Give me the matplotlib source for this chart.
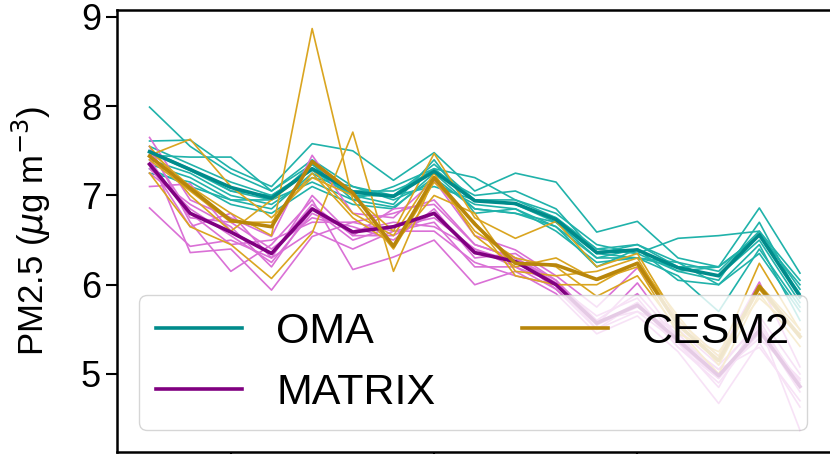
import matplotlib
matplotlib.use("Agg")
import matplotlib.pyplot as plt

plt.rcParams['font.family'] = ['Liberation Sans', 'DejaVu Sans']

years = list(range(2003, 2020))
xticks = [2005, 2010, 2015]
yticks = [5, 6, 7, 8, 9]

# OMA ensemble members and mean
oma_members = [
    [7.99, 7.55, 7.25, 7.05, 7.40, 7.10, 7.00, 7.35, 6.95, 6.90, 6.75, 6.40, 6.45, 6.25, 6.15, 6.60, 5.95],
    [7.61, 7.62, 7.30, 7.10, 7.58, 7.50, 7.17, 7.48, 7.05, 7.25, 7.15, 6.59, 6.71, 6.30, 6.20, 6.86, 6.13],
    [7.45, 7.43, 7.43, 7.05, 7.35, 6.95, 7.10, 7.30, 7.20, 6.95, 6.80, 6.45, 6.35, 6.52, 6.55, 6.60, 6.05],
    [7.35, 7.20, 6.95, 6.85, 7.25, 7.00, 6.90, 7.40, 6.80, 6.85, 6.60, 6.25, 6.30, 6.10, 5.70, 6.40, 5.75],
    [7.30, 7.10, 6.95, 6.95, 7.15, 6.95, 6.87, 7.20, 6.85, 6.80, 6.70, 6.30, 6.40, 6.15, 6.05, 6.70, 5.85],
    [7.55, 7.35, 7.15, 7.00, 7.30, 7.05, 7.05, 7.25, 7.00, 7.05, 6.85, 6.35, 6.45, 6.20, 6.10, 6.50, 5.80],
    [7.40, 7.25, 7.00, 6.90, 7.20, 7.10, 6.95, 7.15, 6.90, 6.85, 6.65, 6.30, 6.30, 6.25, 6.00, 6.45, 5.60],
    [7.50, 7.30, 7.05, 6.95, 7.35, 7.00, 7.00, 7.10, 6.95, 6.95, 6.75, 6.40, 6.35, 6.15, 6.20, 6.55, 5.90],
    [7.25, 7.15, 6.90, 6.80, 7.10, 6.90, 6.85, 7.25, 6.85, 6.80, 6.65, 6.20, 6.40, 6.05, 6.00, 6.35, 5.70],
    [7.48, 7.28, 7.05, 7.00, 7.28, 7.00, 7.00, 7.30, 6.95, 6.90, 6.70, 6.35, 6.30, 6.20, 6.20, 6.55, 6.00],
]
oma_mean = [7.49, 7.29, 7.09, 6.97, 7.30, 7.04, 6.99, 7.27, 6.94, 6.91, 6.73, 6.36, 6.39, 6.19, 6.10, 6.56, 5.87]

# MATRIX ensemble members and mean
matrix_members = [
    [7.65, 6.95, 6.75, 6.54, 7.45, 6.80, 6.75, 7.17, 6.55, 6.39, 6.10, 5.75, 6.19, 5.60, 5.20, 6.03, 5.08],
    [6.86, 6.43, 6.50, 6.30, 6.60, 6.40, 6.60, 6.70, 6.20, 6.20, 6.02, 5.50, 5.80, 5.35, 4.95, 5.45, 4.93],
    [7.10, 7.13, 6.60, 6.35, 6.90, 6.55, 6.55, 6.80, 6.35, 6.30, 5.95, 5.55, 6.02, 5.40, 5.05, 5.60, 4.85],
    [7.55, 6.70, 6.15, 6.45, 6.95, 6.17, 6.31, 6.50, 6.00, 6.15, 5.90, 5.45, 5.65, 5.25, 4.67, 5.35, 4.63],
    [7.45, 6.36, 6.40, 5.94, 6.54, 6.70, 6.80, 6.95, 6.45, 6.30, 6.05, 5.60, 5.70, 5.50, 5.10, 5.55, 4.37],
    [7.30, 6.85, 6.55, 6.25, 6.80, 6.60, 6.70, 6.65, 6.40, 6.25, 6.00, 5.65, 5.85, 5.30, 4.90, 5.50, 4.80],
    [7.40, 6.75, 6.70, 6.40, 6.75, 6.65, 6.50, 6.85, 6.30, 6.35, 6.05, 5.55, 5.75, 5.45, 5.00, 5.40, 4.95],
    [7.25, 6.90, 6.65, 6.20, 6.85, 6.50, 6.65, 6.75, 6.40, 6.20, 5.95, 5.50, 5.70, 5.35, 4.85, 5.65, 5.00],
    [7.50, 6.80, 6.45, 6.50, 6.70, 6.70, 6.60, 6.60, 6.25, 6.10, 6.00, 5.60, 5.90, 5.40, 5.05, 5.30, 4.70],
    [7.35, 6.65, 6.80, 6.30, 7.00, 6.55, 6.85, 6.90, 6.45, 6.30, 6.02, 5.55, 5.80, 5.30, 4.95, 5.55, 4.90],
]
matrix_mean = [7.35, 6.80, 6.59, 6.35, 6.85, 6.59, 6.65, 6.80, 6.36, 6.26, 6.00, 5.57, 5.77, 5.38, 4.98, 5.49, 4.86]

# CESM2 ensemble members and mean
cesm_members = [
    [7.45, 7.63, 7.10, 6.75, 7.20, 7.00, 6.60, 7.47, 6.75, 6.52, 6.71, 6.20, 6.35, 5.60, 5.20, 6.24, 5.49],
    [7.25, 6.65, 6.45, 6.07, 6.58, 7.71, 6.15, 7.20, 6.60, 6.30, 6.20, 5.87, 6.10, 5.50, 5.00, 5.90, 5.31],
    [7.50, 7.10, 6.80, 6.55, 8.87, 6.95, 6.40, 7.15, 6.70, 6.10, 6.00, 6.00, 6.25, 5.65, 5.10, 5.95, 5.40],
    [7.55, 7.00, 6.60, 6.95, 7.30, 6.80, 6.55, 7.25, 6.55, 6.20, 6.30, 6.05, 6.20, 5.45, 5.25, 5.85, 5.45],
    [7.40, 7.05, 6.70, 6.70, 7.25, 6.75, 6.45, 7.00, 6.80, 6.15, 6.10, 6.15, 6.30, 5.55, 5.15, 6.00, 5.50],
]
cesm_mean = [7.44, 7.08, 6.72, 6.65, 7.38, 7.03, 6.43, 7.20, 6.68, 6.24, 6.22, 6.06, 6.24, 5.55, 5.15, 5.98, 5.42]

fig = plt.figure(figsize=(8.3, 4.54), dpi=100)
ax = fig.add_axes([0.141, 0.0044, 0.862, 0.9736])

for m in oma_members:
    ax.plot(years, m, color='lightseagreen', lw=1.2)
for m in matrix_members:
    ax.plot(years, m, color='orchid', lw=1.2)
for m in cesm_members:
    ax.plot(years, m, color='goldenrod', lw=1.2)

ax.plot(years, oma_mean, color='darkcyan', lw=2.6, label='OMA')
ax.plot(years, matrix_mean, color='purple', lw=2.6, label='MATRIX')
ax.plot(years, cesm_mean, color='darkgoldenrod', lw=2.6, label='CESM2')

ax.set_xlim(2002.2, 2019.8)
ax.set_ylim(4.126, 9.078)
ax.set_xticks(xticks)
ax.set_xticklabels([])  # year labels fall below the cropped edge
ax.set_yticks(yticks)
ax.tick_params(labelsize=26, length=8, width=1.5)
for s in ax.spines.values():
    s.set_linewidth(1.8)
ax.set_ylabel(r'PM2.5 ($\mu$g m$^{-3}$)', fontsize=25, labelpad=20)

ax.legend(loc='lower left', ncol=2, fontsize=31)

fig.savefig('out.png', dpi=100)
